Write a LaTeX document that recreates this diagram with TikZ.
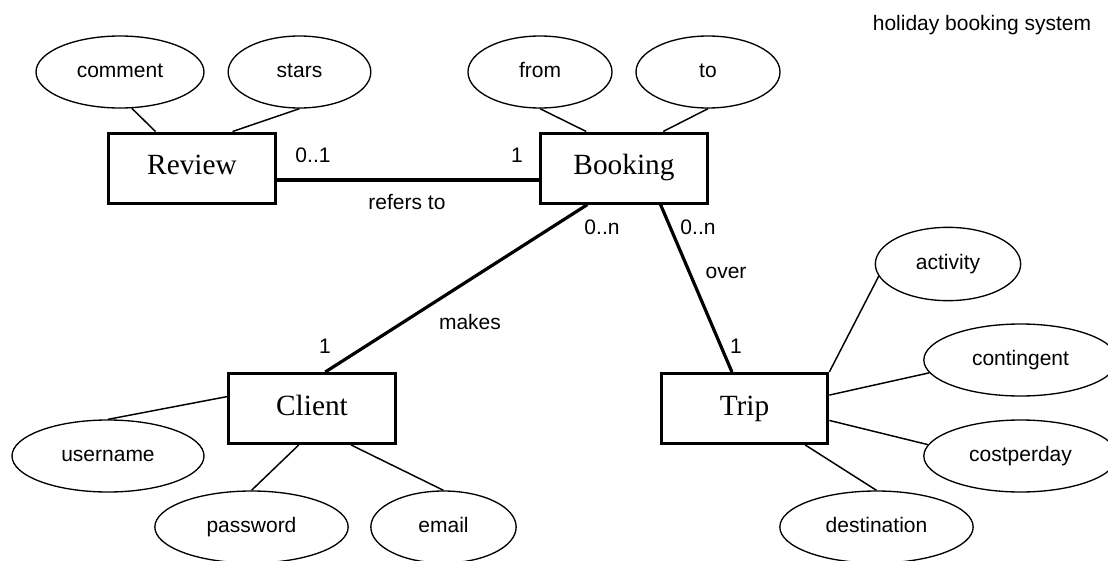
\documentclass[tikz,border=0pt]{standalone}
\usepackage{fontspec}
\setmainfont{Liberation Serif}
\setsansfont{Liberation Sans}
\usepackage{tikz}
\usetikzlibrary{positioning, shapes.geometric}
\tikzset{
  ent/.style={draw,line width=2.25pt,minimum width=125pt,minimum height=52.5pt,
    inner sep=0pt,text height=15pt,text depth=5pt,font=\fontsize{22}{26}\selectfont},
  attr/.style={draw,ellipse,line width=1pt,minimum width=108pt,minimum height=54pt,
    inner sep=0pt,text height=11.5pt,text depth=3.5pt,
    font=\sffamily\fontsize{15.75}{18}\selectfont},
  rel/.style={line width=2.4pt},
  lnk/.style={line width=1.1pt},
  lbl/.style={font=\sffamily\fontsize{15.75}{18}\selectfont,inner sep=0pt},
}

\begin{document}
\begin{tikzpicture}[x=0.75pt,y=-0.75pt]
  \useasboundingbox (0,0) rectangle (1108,561);
  \node[ent] (review) at (192,168) {Review};
  \node[ent] (booking) at (624,168) {Booking};
  \node[ent] (client) at (312,408.5) {Client};
  \node[ent] (trip) at (744.5,408.5) {Trip};

  \node[attr,minimum width=126pt] (comment) at (120,72) {comment};
  \node[attr,minimum width=107pt] (stars) at (299.5,72) {stars};
  \node[attr] (from) at (540,72) {from};
  \node[attr] (to) at (708,72) {to};
  \node[attr,minimum width=109pt,minimum height=55pt] (activity) at (948,264) {activity};
  \node[attr,minimum width=145pt] (contingent) at (1020.5,360) {contingent};
  \node[attr,minimum width=145pt] (costperday) at (1020.5,456) {costperday};
  \node[attr,minimum width=145pt] (destination) at (876.5,527) {destination};
  \node[attr,minimum width=144pt] (username) at (108,456) {username};
  \node[attr,minimum width=145pt] (password) at (251.5,527) {password};
  \node[attr,minimum width=109pt] (email) at (443.5,527) {email};

  \draw[lnk] (comment.-72) -- (review.135.8);
  \draw[lnk] (stars.south) -- (review.42);
  \draw[lnk] (from.south) -- (booking.136.5);
  \draw[lnk] (to.south) -- (booking.43.5);
  \draw[lnk] (activity.190) -- (trip.north east);
  \draw[lnk] (contingent.188) -- (trip.9);
  \draw[lnk] (costperday.173) -- (trip.-8);
  \draw[lnk] (destination.north) -- (trip.-31.4);
  \draw[lnk] (username.north) -- (client.172.3);
  \draw[lnk] (password.north) -- (client.-110.5);
  \draw[lnk] (email.north) -- (client.-43);

  \draw[rel] (review.-8.8) -- (booking.188.8);
  \draw[rel] (booking.-135) -- (client.70.4);
  \draw[rel] (booking.-45) -- (trip.109.4);

  \node[lbl] (r1) at (313,155) {0..1};
  \node[lbl] (r2) at (517,155) {1};
  \node[lbl] (r3) at (407,202) {refers to};
  \node[lbl] (m1) at (602,227) {0..n};
  \node[lbl] (m2) at (325,346) {1};
  \node[lbl] (m3) at (470,322) {makes};
  \node[lbl] (o1) at (698,227) {0..n};
  \node[lbl] (o2) at (736,346) {1};
  \node[lbl] (o3) at (726,273) {over};
  \node[lbl] (title) at (982,25) {holiday booking system};
\end{tikzpicture}
\end{document}
